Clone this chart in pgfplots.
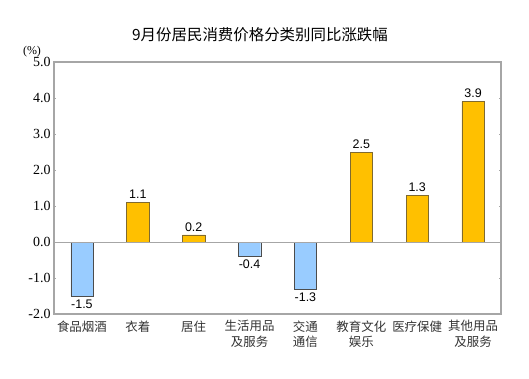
\documentclass[border=0pt]{standalone}
\usepackage{pgfplots}
\pgfplotsset{compat=1.18}
\usepackage{fontspec}
\setmainfont{Liberation Serif}
\newfontfamily\cjk{Noto Sans CJK SC}
\newfontfamily\arial{Liberation Sans}
\newfontfamily\tnr{Liberation Serif}
\definecolor{barorange}{HTML}{FFC000}
\definecolor{barblue}{HTML}{99CCFF}
\definecolor{edgec}{HTML}{7F6A30}
\definecolor{axgray}{HTML}{A6A6A6}
\begin{document}
\begin{tikzpicture}[x=1bp,y=1bp]
\path[use as bounding box] (-54,-64) rectangle (475,314);
\begin{axis}[
  at={(0,0)}, anchor=south west,
  scale only axis, width=447bp, height=252bp,
  xmin=-0.5, xmax=7.5, ymin=-2, ymax=5,
  xtick={0,1,2,3,4,5,6,7},
  xticklabels={食品烟酒,衣着,居住,生活用品\\及服务,交通\\通信,教育文化\\娱乐,医疗保健,其他用品\\及服务},
  xticklabel style={font=\cjk\fontsize{12.5}{15.5}\selectfont, align=center, text=black!80},
  x tick label style={yshift=-1bp},
  major x tick style={draw=none},
  ytick={-2,-1,0,1,2,3,4,5},
  yticklabels={-2.0,-1.0,0.0,1.0,2.0,3.0,4.0,5.0},
  yticklabel style={font=\tnr\fontsize{14}{16}\selectfont},
  y tick style={draw=axgray, thin},
  major tick length=2bp,
  axis line style={draw=axgray, line width=1.2bp},
  ybar, bar width=0.4,
  nodes near coords={\pgfmathprintnumber[fixed,fixed zerofill,precision=1,assume math mode=true]{\pgfplotspointmeta}},
  nodes near coords style={font=\arial\fontsize{12.5}{14}\selectfont},
  clip=false,
]
\addplot[fill=barorange, draw=edgec, bar shift=0] coordinates {(1,1.1) (2,0.2) (5,2.5) (6,1.3) (7,3.9)};
\addplot[fill=barblue, draw=black!70, bar shift=0] coordinates {(0,-1.5) (3,-0.4) (4,-1.3)};
\draw[axgray, line width=1bp] (axis cs:-0.5,0) -- (axis cs:7.5,0);
\end{axis}
\node[font=\cjk\fontsize{15.5}{17}\selectfont] at (206,279) {9月份居民消费价格分类别同比涨跌幅};
\node[font=\tnr\fontsize{12}{13}\selectfont] at (-22,262) {(\%)};
\end{tikzpicture}
\end{document}
